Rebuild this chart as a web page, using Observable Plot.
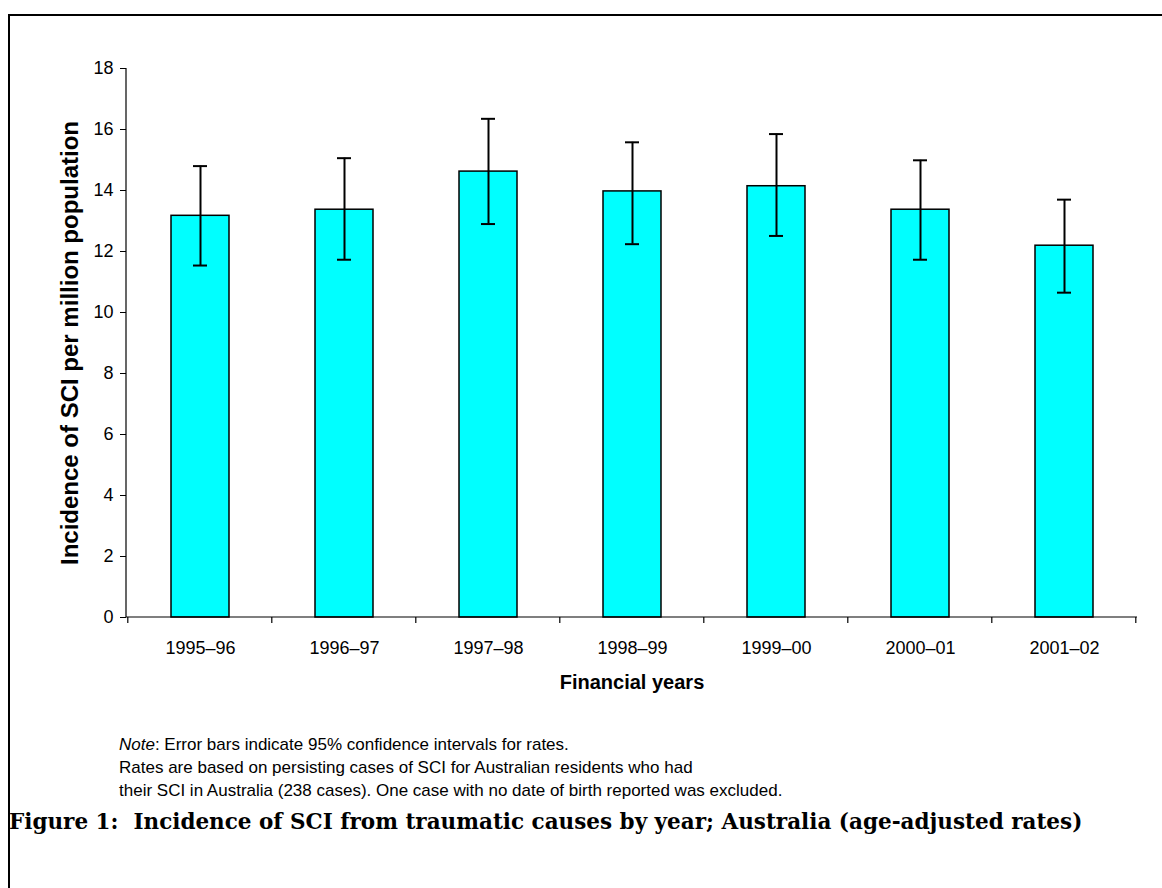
<!DOCTYPE html>
<html>
<head>
<meta charset="utf-8">
<script src="https://cdn.jsdelivr.net/npm/d3@7"></script>
<script src="https://cdn.jsdelivr.net/npm/@observablehq/plot@0.6"></script>
<style>
  html, body { margin: 0; padding: 0; background: #fff; overflow: hidden; }
  #wrap { position: relative; width: 1162px; height: 888px; }
  #frame { position: absolute; left: 8px; top: 14px; width: 1200px; height: 950px; border: 2px solid #000; box-sizing: border-box; }
  #chart { position: absolute; left: 0; top: 0; }
  #note { position: absolute; left: 119px; top: 733px; font-family: "Liberation Sans", Arial, sans-serif; font-size: 17px; line-height: 23px; color: #000; }
  #caption { position: absolute; left: 9px; top: 810px; font-family: "DejaVu Serif", serif; font-weight: bold; font-size: 21.5px; line-height: 24px; color: #000; white-space: nowrap; }
</style>
</head>
<body>
<div id="wrap">
  <div id="frame"></div>
  <div id="chart"></div>
  <div id="note"><i>Note</i>: Error bars indicate 95% confidence intervals for rates.<br>Rates are based on persisting cases of SCI for Australian residents who had<br>their SCI in Australia (238 cases). One case with no date of birth reported was excluded.</div>
  <div id="caption">Figure 1:&nbsp; Incidence of SCI from traumatic causes by year; Australia (age-adjusted rates)</div>
</div>
<script>
const years = ["1995–96", "1996–97", "1997–98", "1998–99", "1999–00", "2000–01", "2001–02"];
const rates = [13.17, 13.37, 14.62, 13.97, 14.14, 13.37, 12.19];
const lower = [11.54, 11.73, 12.90, 12.24, 12.51, 11.73, 10.65];
const upper = [14.80, 15.06, 16.35, 15.58, 15.85, 14.99, 13.70];
const yTicks = [0, 2, 4, 6, 8, 10, 12, 14, 16, 18];
const yLabel = "Incidence of SCI per million population";
const xLabel = "Financial years";

const data = years.map((year, i) => ({year, rate: rates[i], lo: lower[i], hi: upper[i]}));

const PI = 0.6, PO = 0.3;

function axisLines(index, scales, values, dims) {
  const x = scales.x, y = scales.y;
  const step = x(years[1]) - x(years[0]);
  const bw = step * (1 - PI);
  const y0 = y(0);
  const g = d3.create("svg:g").attr("stroke", "#000").attr("stroke-width", 1.2).attr("fill", "none");
  const left = dims.marginLeft, right = dims.width - dims.marginRight;
  g.append("line").attr("x1", left).attr("x2", left).attr("y1", y(18)).attr("y2", y0);
  g.append("line").attr("x1", left).attr("x2", right).attr("y1", y0).attr("y2", y0);
  const bounds = years.map(c => x(c) - (step - bw) / 2);
  bounds.push(x(years[years.length - 1]) + bw + (step - bw) / 2);
  for (const b of bounds) {
    g.append("line").attr("x1", b).attr("x2", b).attr("y1", y0).attr("y2", y0 + 6);
  }
  return g.node();
}

const chart = Plot.plot({
  width: 1162,
  height: 700,
  marginLeft: 126,
  marginRight: 25,
  marginTop: 68,
  marginBottom: 83,
  style: {fontFamily: "'Liberation Sans', Arial, sans-serif", fontSize: "18px", color: "#000", background: "transparent"},
  x: {domain: years, paddingInner: PI, paddingOuter: PO, label: null},
  y: {domain: [0, 18], label: null},
  marks: [
    Plot.barY(data, {x: "year", y: "rate", fill: "#00FFFF", stroke: "#000", strokeWidth: 1.5}),
    Plot.ruleX(data, {x: "year", y1: "lo", y2: "hi", stroke: "#000", strokeWidth: 2}),
    Plot.tickY(data, {x: "year", y: "hi", stroke: "#000", strokeWidth: 2, insetLeft: 22, insetRight: 22}),
    Plot.tickY(data, {x: "year", y: "lo", stroke: "#000", strokeWidth: 2, insetLeft: 22, insetRight: 22}),
    Plot.axisY({ticks: yTicks, tickSize: 6, tickPadding: 7, tickFormat: d => String(d), label: null, fontSize: 18}),
    Plot.axisX({tickSize: 0, tickPadding: 24, label: null, fontSize: 18}),
    axisLines,
    Plot.text([yLabel], {frameAnchor: "left", dx: -56, rotate: -90, textAnchor: "middle", fontWeight: "bold", fontSize: 24}),
    Plot.text([xLabel], {frameAnchor: "bottom", dy: 71, textAnchor: "middle", fontWeight: "bold", fontSize: 20})
  ]
});
document.getElementById("chart").appendChild(chart);
</script>
</body>
</html>
